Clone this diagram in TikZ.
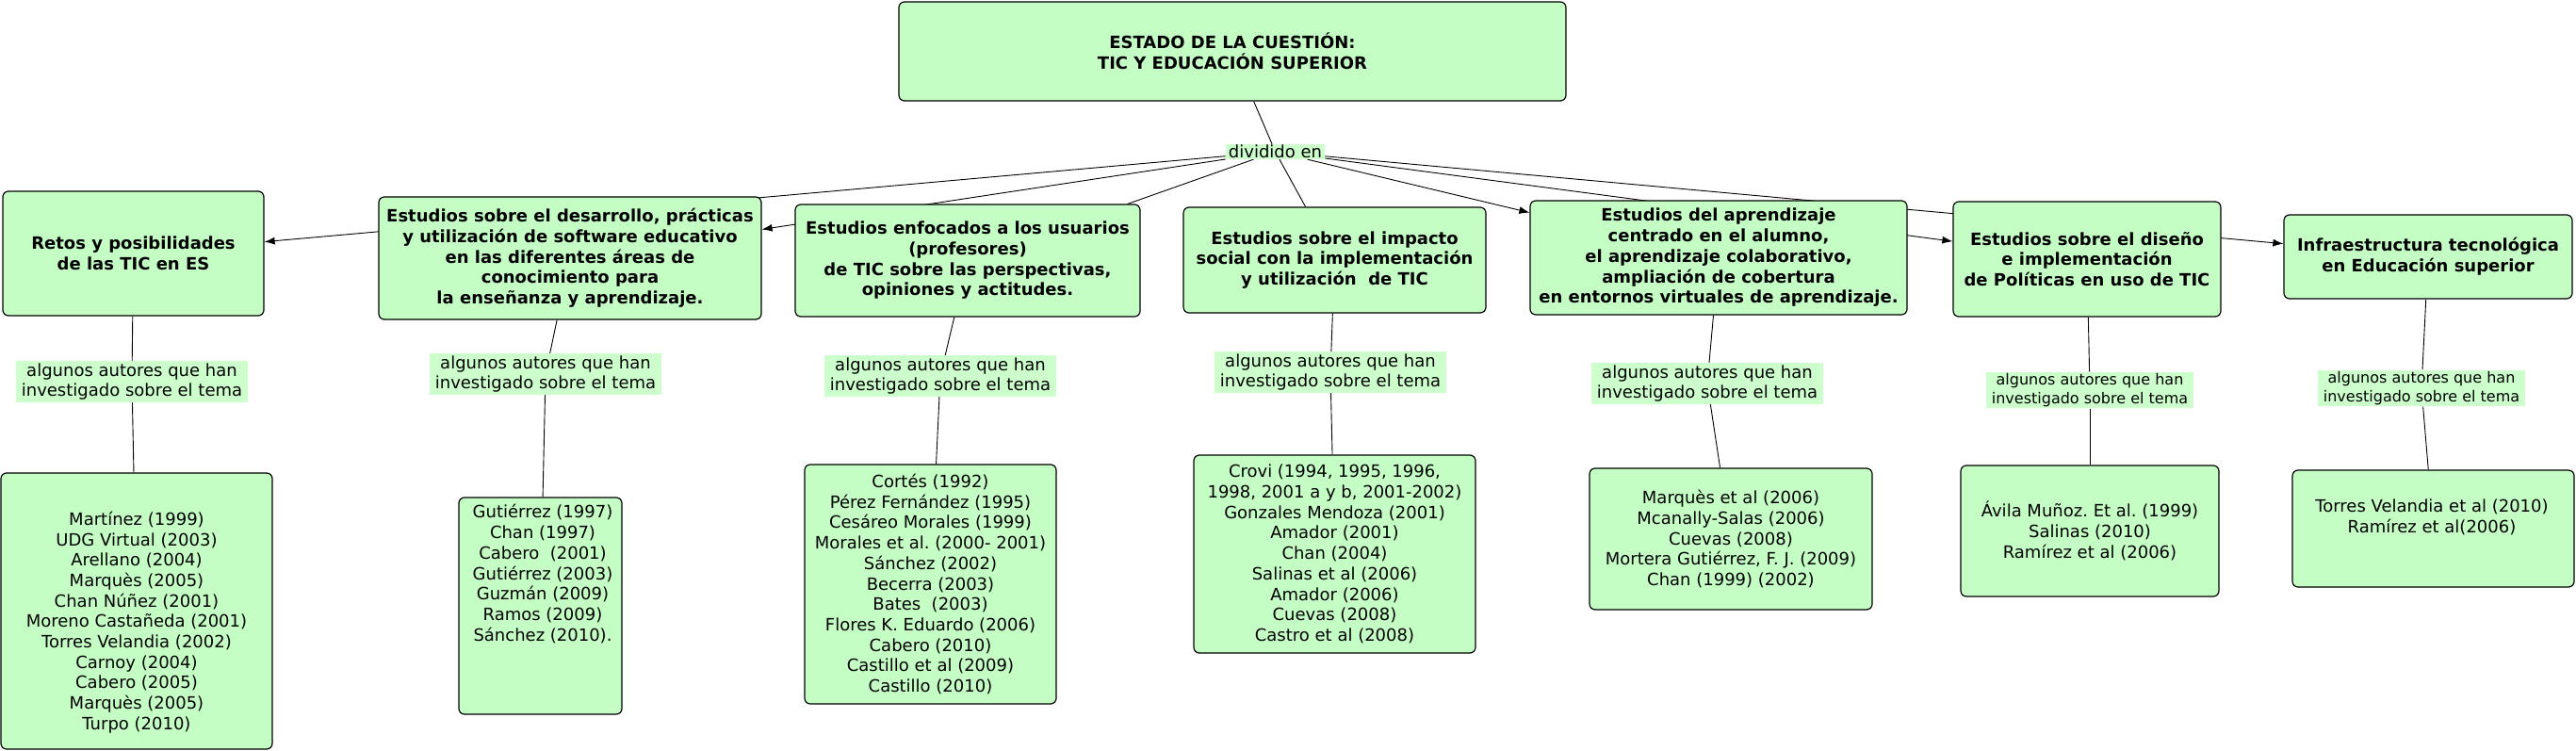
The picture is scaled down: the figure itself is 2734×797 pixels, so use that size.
\documentclass[tikz,border=0pt]{standalone}
\usepackage{fontspec}
\setmainfont{DejaVu Sans}
\usetikzlibrary{arrows.meta}
\pgfdeclarelayer{bg}
\pgfsetlayers{bg,main}
\definecolor{cgreen}{RGB}{197,254,197}
\definecolor{lgreen}{RGB}{204,255,204}
\frenchspacing
\begin{document}
\begin{tikzpicture}[x=1pt,y=-1pt,
  cbox/.style={draw=black, fill=cgreen, rounded corners=6pt, line width=1.2pt, inner sep=0pt, align=center, font=\fontsize{18}{21.7}\selectfont\bfseries},
  abox/.style={cbox, font=\fontsize{18}{21.7}\selectfont},
  atxt/.style={align=center, inner sep=0pt, font=\fontsize{18}{21.7}\selectfont},
  lnk/.style={fill=lgreen, inner xsep=6pt, inner ysep=2pt, align=center, font=\fontsize{18}{21.7}\selectfont},
  lnks/.style={lnk, font=\fontsize{16}{19.3}\selectfont},
  con/.style={draw=black, line width=0.9pt},
  arr/.style={con, -{Latex[length=11pt,width=8pt]}}
]
\useasboundingbox (0,0) rectangle (2734,797);

% root and linking phrase
\node[cbox, minimum width=708pt, minimum height=105pt] (root) at (1308,54.5) {ESTADO DE LA CUESTIÓN:\\TIC Y EDUCACIÓN SUPERIOR};
\node[fill=lgreen, inner xsep=3pt, inner ysep=1pt, font=\fontsize{18}{21.7}\selectfont] (div) at (1353.5,161) {dividido en};

% top row concepts
\node[cbox, minimum width=277pt, minimum height=132pt] (retos) at (141.5,269) {Retos y posibilidades\\de las TIC en ES};
\node[cbox, minimum width=406pt, minimum height=130pt] (desa) at (605,274) {Estudios sobre el desarrollo, prácticas\\y utilización de software educativo\\en las diferentes áreas de\\conocimiento para\\la enseñanza y aprendizaje.};
\node[cbox, minimum width=366pt, minimum height=119pt] (usu) at (1027,276.5) {Estudios enfocados a los usuarios\\(profesores)\\de TIC sobre las perspectivas,\\opiniones y actitudes.};
\node[cbox, minimum width=321pt, minimum height=112pt] (imp) at (1416.5,276) {Estudios sobre el impacto\\social con la implementación\\y utilización~ de TIC};
\node[cbox, minimum width=400pt, minimum height=121pt] (apr) at (1824,273.5) {Estudios del aprendizaje\\centrado en el alumno,\\el aprendizaje colaborativo,\\ampliación de cobertura\\en entornos virtuales de aprendizaje.};
\node[cbox, minimum width=284pt, minimum height=122pt] (dis) at (2215,275) {Estudios sobre el diseño\\e implementación\\de Políticas en uso de TIC};
\node[cbox, minimum width=306pt, minimum height=89pt] (inf) at (2577,272.5) {Infraestructura tecnológica\\en Educación superior};

% linking phrases
\node[lnk] (l1) at (140,405) {algunos autores que han\\investigado sobre el tema};
\node[lnk] (l2) at (579,397) {algunos autores que han\\investigado sobre el tema};
\node[lnk] (l3) at (998,399) {algunos autores que han\\investigado sobre el tema};
\node[lnk] (l4) at (1412,395) {algunos autores que han\\investigado sobre el tema};
\node[lnk] (l5) at (1812,407) {algunos autores que han\\investigado sobre el tema};
\node[lnks] (l6) at (2218,414) {algunos autores que han\\investigado sobre el tema};
\node[lnks] (l7) at (2570,412) {algunos autores que han\\investigado sobre el tema};

% bottom row concepts
\node[abox, minimum width=288pt, minimum height=293pt] (b1) at (145,648.5) {};
\node[atxt] (b1t) at (145,660.5) {Martínez (1999)\\UDG Virtual (2003)\\Arellano (2004)\\Marquès (2005)\\Chan Núñez (2001)\\Moreno Castañeda (2001)\\Torres Velandia (2002)\\Carnoy (2004)\\Cabero (2005)\\Marquès (2005)\\Turpo (2010)};
\node[abox, minimum width=173pt, minimum height=230pt] (b2) at (573.5,643) {};
\node[atxt] (b2t) at (576,609) {Gutiérrez (1997)\\Chan (1997)\\Cabero~ (2001)\\Gutiérrez (2003)\\Guzmán (2009)\\Ramos (2009)\\Sánchez (2010).};
\node[abox, minimum width=267pt, minimum height=254pt] (b3) at (987.5,620) {Cortés (1992)\\Pérez Fernández (1995)\\Cesáreo Morales (1999)\\Morales et al. (2000- 2001)\\Sánchez (2002)\\Becerra (2003)\\Bates~ (2003)\\Flores K. Eduardo (2006)\\Cabero (2010)\\Castillo et al (2009)\\Castillo (2010)};
\node[abox, minimum width=299pt, minimum height=210pt] (b4) at (1416.5,588) {Crovi (1994, 1995, 1996,\\1998, 2001 a y b, 2001-2002)\\Gonzales Mendoza (2001)\\Amador (2001)\\Chan (2004)\\Salinas et al (2006)\\Amador (2006)\\Cuevas (2008)\\Castro et al (2008)};
\node[abox, minimum width=300pt, minimum height=150pt] (b5) at (1837,572) {Marquès et al (2006)\\Mcanally-Salas (2006)\\Cuevas (2008)\\Mortera Gutiérrez, F. J. (2009)\\Chan (1999) (2002)};
\node[abox, minimum width=274pt, minimum height=139pt] (b6) at (2218,563.5) {Ávila Muñoz. Et al. (1999)\\Salinas (2010)\\Ramírez et al (2006)};
\node[abox, minimum width=299pt, minimum height=124pt] (b7) at (2582.5,561) {};
\node[atxt] (b7t) at (2581,548.5) {Torres Velandia et al (2010)\\Ramírez et al(2006)};

% connectors (behind the boxes)
\begin{pgfonlayer}{bg}
\draw[con] (root) -- (div);
\draw[arr] (div) -- (retos);
\draw[arr] (div) -- (desa);
\draw[con] (div) -- (usu);
\draw[con] (div) -- (imp);
\draw[arr] (div) -- (apr);
\draw[arr] (div) -- (dis);
\draw[arr] (div) -- (inf);
\draw[con] (retos) -- (l1); \draw[con] (l1) -- (b1);
\draw[con] (desa) -- (l2); \draw[con] (l2) -- (b2);
\draw[con] (usu) -- (l3); \draw[con] (l3) -- (b3);
\draw[con] (imp) -- (l4); \draw[con] (l4) -- (b4);
\draw[con] (apr) -- (l5); \draw[con] (l5) -- (b5);
\draw[con] (dis) -- (l6); \draw[con] (l6) -- (b6);
\draw[con] (inf) -- (l7); \draw[con] (l7) -- (b7);
\end{pgfonlayer}
\end{tikzpicture}
\end{document}
